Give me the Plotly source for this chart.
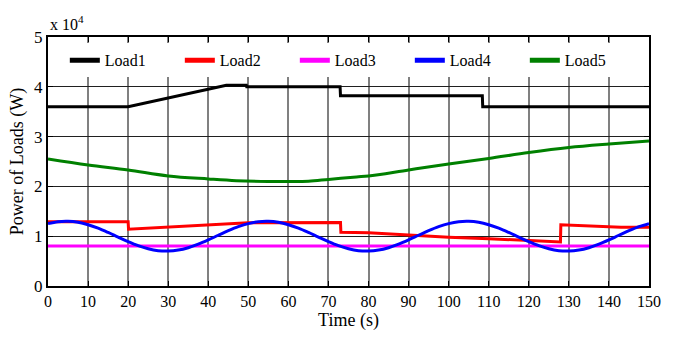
import plotly.graph_objects as go

# Time axis points (s) and load powers (W)
t1 = [0, 20, 44.5, 49.5, 49.6, 72.9, 73.0, 108.4, 108.5, 150]
load1 = [36000, 36000, 40300, 40300, 40000, 40000, 38200, 38200, 36000, 36000]

t2 = [0, 20, 20.1, 32.5, 40, 50, 73, 73.1, 80, 90, 100, 110, 120, 127.9, 128, 135, 143, 150]
load2 = [12900, 12900, 11400, 11900, 12300, 12700, 12750, 10800, 10700, 10200, 9800, 9500, 9200, 8850,
         12300, 12100, 11800, 11800]

t3 = [0, 150]
load3 = [8050, 8050]

t4 = [i * 2.5 for i in range(61)]
cycle4 = [12530, 12910, 12990, 12790, 12310, 11610, 10750, 9810, 8900, 8090,
          7470, 7090, 7010, 7210, 7690, 8390, 9250, 10190, 11100, 11910]
load4 = cycle4 * 3 + [12530]

t5 = [0, 10, 20, 30, 40, 47, 55, 60, 65, 70, 77, 80, 90, 100, 110, 120, 130, 140, 150]
load5 = [25500, 24300, 23300, 22100, 21500, 21150, 21000, 21000, 21050, 21400, 21900, 22100,
         23300, 24500, 25600, 26800, 27800, 28500, 29100]

x_ticks = list(range(0, 151, 10))
y_ticks = [0, 1, 2, 3, 4, 5]

series = [
    ("Load1", t1, load1, "black"),
    ("Load2", t2, load2, "red"),
    ("Load3", t3, load3, "#ff00ff"),
    ("Load4", t4, load4, "blue"),
    ("Load5", t5, load5, "green"),
]

fig = go.Figure()
for name, tx, vals, col in series:
    fig.add_trace(go.Scatter(
        x=tx, y=[v / 1e4 for v in vals], mode="lines", name=name,
        line=dict(color=col, width=3, shape="spline" if name in ("Load4", "Load5") else "linear"),
    ))

ff = "Liberation Serif, Times New Roman, serif"
fig.update_layout(
    width=673, height=339,
    margin=dict(l=48, r=14, t=37, b=45),
    paper_bgcolor="white", plot_bgcolor="white",
    font=dict(family=ff, size=16, color="black"),
    showlegend=True,
    legend=dict(
        orientation="h", x=0.028, y=0.975, xanchor="left", yanchor="top",
        bgcolor="white", borderwidth=0,
        font=dict(family=ff, size=16, color="black"),
        entrywidth=70, entrywidthmode="pixels",
        itemsizing="constant",
    ),
    xaxis=dict(
        range=[0, 150], tickvals=x_ticks, ticktext=[str(v) for v in x_ticks],
        showgrid=True, gridcolor="#808080", gridwidth=2,
        showline=True, linecolor="black", linewidth=2, mirror="ticks",
        ticks="inside", ticklen=5, tickcolor="black", tickwidth=1,
        zeroline=False,
        title=dict(text="Time (s)", font=dict(family=ff, size=18), standoff=4),
        tickfont=dict(family=ff, size=16),
    ),
    yaxis=dict(
        range=[0, 5], tickvals=y_ticks, ticktext=[str(v) for v in y_ticks],
        showgrid=True, gridcolor="#202020", gridwidth=1,
        showline=True, linecolor="black", linewidth=2, mirror="ticks",
        ticks="inside", ticklen=5, tickcolor="black", tickwidth=1,
        zeroline=False,
        title=dict(text="Power of Loads (W)", font=dict(family=ff, size=18), standoff=6),
        tickfont=dict(family=ff, size=17),
    ),
    annotations=[dict(
        text="x 10<sup>4</sup>", xref="paper", yref="paper", x=0.0, y=1.0,
        xanchor="left", yanchor="bottom", showarrow=False, yshift=2,
        font=dict(family=ff, size=16, color="black"),
    )],
)

fig.write_html("out.html")
